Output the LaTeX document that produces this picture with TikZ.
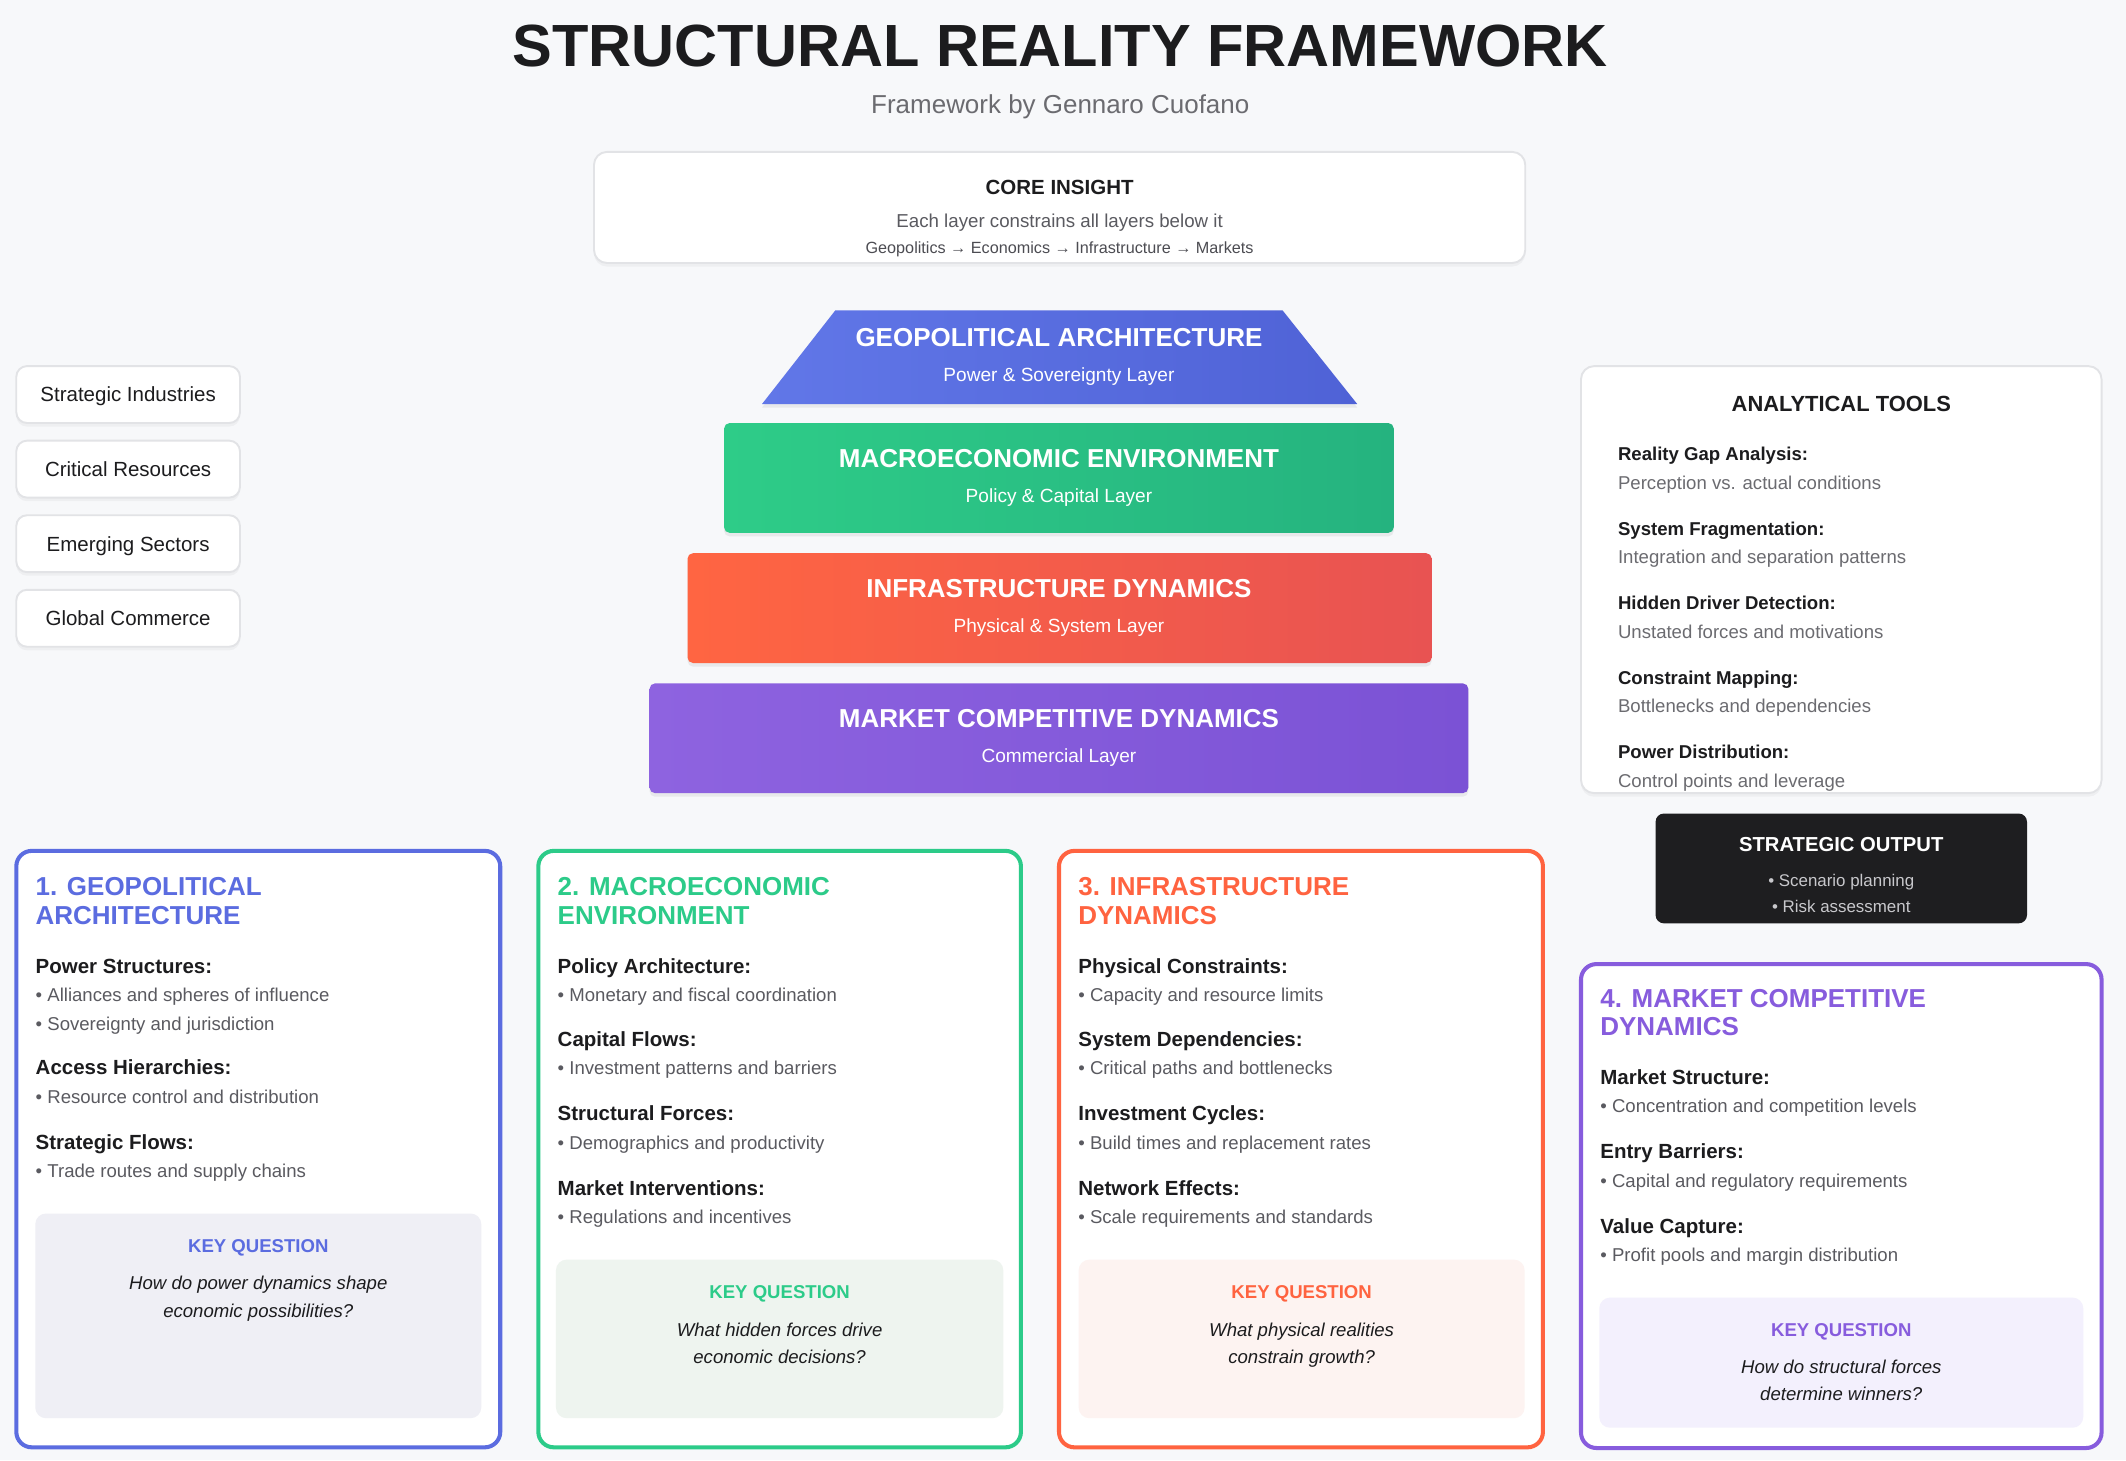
\documentclass[tikz,border=0pt]{standalone}
\usepackage{fontspec}
\setmainfont{Liberation Sans}
\usetikzlibrary{shadows}
\definecolor{bg}{HTML}{F7F8FA}
\definecolor{ink}{HTML}{1C1C1E}
\definecolor{subc}{HTML}{6B6B70}
\definecolor{bodyc}{HTML}{5A5A60}
\definecolor{lineg}{HTML}{E2E3E6}
\definecolor{cblue}{HTML}{5B6CE0}
\definecolor{cgreen}{HTML}{2CCB89}
\definecolor{cred}{HTML}{FF6340}
\definecolor{cpurple}{HTML}{875CDD}
\definecolor{blueA}{HTML}{6177E8}
\definecolor{blueB}{HTML}{4F62D6}
\definecolor{greenA}{HTML}{2ECC88}
\definecolor{greenB}{HTML}{25B37F}
\definecolor{redA}{HTML}{FF6542}
\definecolor{redB}{HTML}{E85352}
\definecolor{purA}{HTML}{8E63E0}
\definecolor{purB}{HTML}{7B52D5}
\definecolor{kqblue}{HTML}{EFEFF5}
\definecolor{kqgreen}{HTML}{EEF4EF}
\definecolor{kqred}{HTML}{FDF3F1}
\definecolor{kqpur}{HTML}{F3F0FD}
\definecolor{darkbox}{HTML}{1E1E20}
\definecolor{outtxt}{HTML}{C8C8CC}
\tikzset{
  shad/.style={drop shadow={opacity=0.07, shadow xshift=0pt, shadow yshift=-1.5pt}},
  panel/.style={draw=lineg, line width=0.8pt, fill=white, rounded corners=5.5pt, inner sep=0pt, shad},
  tagbox/.style={panel, rounded corners=4.5pt, minimum width=3.3cm, minimum height=0.84cm, font=\fontsize{8.6}{10}\selectfont, text=ink, text height=6.2pt, text depth=0pt},
  layer/.style={rounded corners=2.3pt, inner sep=0pt, minimum height=1.62cm, drop shadow={opacity=0.12, shadow xshift=0pt, shadow yshift=-1.5pt}},
  card/.style={draw=#1, line width=1.7pt, fill=white, rounded corners=6.5pt, inner sep=0pt},
  kq/.style={fill=#1, rounded corners=4.5pt, inner sep=0pt},
  tc/.style={inner sep=0pt, anchor=mid, yshift=-0.6pt},
  tl/.style={inner sep=0pt, anchor=mid west, yshift=-0.6pt},
  bigttl/.style={tc, font=\fontsize{25}{30}\selectfont\bfseries, text=ink, yshift=-4.3pt},
  subttl/.style={tc, font=\fontsize{10.9}{13}\selectfont, text=subc},
  laytl/.style={tc, font=\fontsize{10.9}{13}\selectfont\bfseries, text=white},
  laysub/.style={tc, font=\fontsize{8}{10}\selectfont, text=white},
  coretl/.style={tc, font=\fontsize{8.6}{10}\selectfont\bfseries, text=ink},
  coreln/.style={tc, font=\fontsize{7.85}{9}\selectfont, text=bodyc},
  coresm/.style={tc, font=\fontsize{6.8}{8}\selectfont, text=bodyc!85!black},
  anatl/.style={tc, font=\fontsize{9.2}{11}\selectfont\bfseries, text=ink},
  anahd/.style={tl, font=\fontsize{7.8}{9}\selectfont\bfseries, text=ink},
  anatx/.style={tl, font=\fontsize{7.8}{9}\selectfont, text=subc},
  outtl/.style={tc, font=\fontsize{8.5}{10}\selectfont\bfseries, text=white},
  outln/.style={tc, font=\fontsize{7.1}{8.5}\selectfont, text=outtxt},
  cardtl/.style={tl, font=\fontsize{10.9}{13}\selectfont\bfseries, text=#1},
  hd/.style={tl, font=\fontsize{8.6}{10}\selectfont\bfseries, text=ink},
  bl/.style={tl, font=\fontsize{7.8}{9}\selectfont, text=bodyc},
  kqt/.style={tc, font=\fontsize{7.8}{9}\selectfont\bfseries, text=#1},
  kqq/.style={tc, font=\fontsize{7.8}{9}\selectfont\itshape, text=ink},
}
\begin{document}
\begin{tikzpicture}[x=0.02cm, y=-0.02cm]
\useasboundingbox (0,0) rectangle (1568,1077);
\fill[bg] (0,0) rectangle (1568,1077);

% Title
\node[bigttl] (title) at (782,36) {STRUCTURAL REALITY FRAMEWORK};
\node[subttl] (subtitle) at (782,78) {Framework by Gennaro Cuofano};

% Core insight
\node[panel, minimum width=13.74cm, minimum height=1.64cm] (core) at (781.5,153) {};
\node[coretl] (coreT) at (781.5,138) {CORE INSIGHT};
\node[coreln] (coreL1) at (781.5,162) {Each layer constrains all layers below it};
\node[coresm] (coreL2) at (781.5,181) {Geopolitics → Economics → Infrastructure → Markets};

% Pyramid
\shade[left color=blueA, right color=blueB, drop shadow={opacity=0.12, shadow xshift=0pt, shadow yshift=-1.5pt}]
  (616,229) -- (946,229) -- (1001,298) -- (562,298) -- cycle;
\coordinate (geo) at (781,263.5);
\node[laytl] (geoT) at (781,250) {GEOPOLITICAL ARCHITECTURE};
\node[laysub] (geoS) at (781,276) {Power \& Sovereignty Layer};

\node[layer, left color=greenA, right color=greenB, minimum width=9.88cm] (macro) at (781,352.5) {};
\node[laytl] (macroT) at (781,339) {MACROECONOMIC ENVIRONMENT};
\node[laysub] (macroS) at (781,365) {Policy \& Capital Layer};

\node[layer, left color=redA, right color=redB, minimum width=10.98cm] (infra) at (781.5,448.5) {};
\node[laytl] (infraT) at (781,435) {INFRASTRUCTURE DYNAMICS};
\node[laysub] (infraS) at (781,461) {Physical \& System Layer};

\node[layer, left color=purA, right color=purB, minimum width=12.08cm] (market) at (781,544.5) {};
\node[laytl] (marketT) at (781,531) {MARKET COMPETITIVE DYNAMICS};
\node[laysub] (marketS) at (781,557) {Commercial Layer};

% Left tags
\node[tagbox] (tag1) at (94.5,291) {Strategic Industries};
\node[tagbox] (tag2) at (94.5,346) {Critical Resources};
\node[tagbox] (tag3) at (94.5,401) {Emerging Sectors};
\node[tagbox] (tag4) at (94.5,456) {Global Commerce};

% Analytical tools
\node[panel, minimum width=7.68cm, minimum height=6.3cm] (tools) at (1358,427.5) {};
\node[anatl] (toolsT) at (1358,298) {ANALYTICAL TOOLS};
\node[anahd] (a1h) at (1193,334) {Reality Gap Analysis:};
\node[anatx] (a1t) at (1193,355) {Perception vs. actual conditions};
\node[anahd] (a2h) at (1193,389) {System Fragmentation:};
\node[anatx] (a2t) at (1193,410) {Integration and separation patterns};
\node[anahd] (a3h) at (1193,444) {Hidden Driver Detection:};
\node[anatx] (a3t) at (1193,465) {Unstated forces and motivations};
\node[anahd] (a4h) at (1193,499) {Constraint Mapping:};
\node[anatx] (a4t) at (1193,520) {Bottlenecks and dependencies};
\node[anahd] (a5h) at (1193,554) {Power Distribution:};
\node[anatx] (a5t) at (1193,575) {Control points and leverage};

% Strategic output
\node[fill=darkbox, rounded corners=3.5pt, inner sep=0pt, minimum width=5.48cm, minimum height=1.62cm] (output) at (1358,640.5) {};
\node[outtl] (outT) at (1358,622) {STRATEGIC OUTPUT};
\node[outln] (outL1) at (1358,648) {• Scenario planning};
\node[outln] (outL2) at (1358,667) {• Risk assessment};

% Card 1
\node[card=cblue, minimum width=7.14cm, minimum height=8.8cm] (card1) at (190.5,847.5) {};
\node[cardtl=cblue] (c1t1) at (26,655) {1. GEOPOLITICAL};
\node[cardtl=cblue] (c1t2) at (26,676) {ARCHITECTURE};
\node[hd] (c1h1) at (26,712) {Power Structures:};
\node[bl] (c1b1) at (26,733) {• Alliances and spheres of influence};
\node[bl] (c1b2) at (26,754) {• Sovereignty and jurisdiction};
\node[hd] (c1h2) at (26,787) {Access Hierarchies:};
\node[bl] (c1b3) at (26,808) {• Resource control and distribution};
\node[hd] (c1h3) at (26,842) {Strategic Flows:};
\node[bl] (c1b4) at (26,863) {• Trade routes and supply chains};
\node[kq=kqblue, minimum width=6.58cm, minimum height=3.02cm] (kq1) at (190.5,970.5) {};
\node[kqt=cblue] (kq1t) at (190.5,918) {KEY QUESTION};
\node[kqq] (kq1a) at (190.5,945) {How do power dynamics shape};
\node[kqq] (kq1b) at (190.5,966) {economic possibilities?};

% Card 2
\node[card=cgreen, minimum width=7.12cm, minimum height=8.8cm] (card2) at (575,847.5) {};
\node[cardtl=cgreen] (c2t1) at (411,655) {2. MACROECONOMIC};
\node[cardtl=cgreen] (c2t2) at (411,676) {ENVIRONMENT};
\node[hd] (c2h1) at (411,712) {Policy Architecture:};
\node[bl] (c2b1) at (411,733) {• Monetary and fiscal coordination};
\node[hd] (c2h2) at (411,766) {Capital Flows:};
\node[bl] (c2b2) at (411,787) {• Investment patterns and barriers};
\node[hd] (c2h3) at (411,821) {Structural Forces:};
\node[bl] (c2b3) at (411,842) {• Demographics and productivity};
\node[hd] (c2h4) at (411,876) {Market Interventions:};
\node[bl] (c2b4) at (411,897) {• Regulations and incentives};
\node[kq=kqgreen, minimum width=6.6cm, minimum height=2.34cm] (kq2) at (575,987.5) {};
\node[kqt=cgreen] (kq2t) at (575,952) {KEY QUESTION};
\node[kqq] (kq2a) at (575,980) {What hidden forces drive};
\node[kqq] (kq2b) at (575,1000) {economic decisions?};

% Card 3
\node[card=cred, minimum width=7.14cm, minimum height=8.8cm] (card3) at (959.5,847.5) {};
\node[cardtl=cred] (c3t1) at (795,655) {3. INFRASTRUCTURE};
\node[cardtl=cred] (c3t2) at (795,676) {DYNAMICS};
\node[hd] (c3h1) at (795,712) {Physical Constraints:};
\node[bl] (c3b1) at (795,733) {• Capacity and resource limits};
\node[hd] (c3h2) at (795,766) {System Dependencies:};
\node[bl] (c3b2) at (795,787) {• Critical paths and bottlenecks};
\node[hd] (c3h3) at (795,821) {Investment Cycles:};
\node[bl] (c3b3) at (795,842) {• Build times and replacement rates};
\node[hd] (c3h4) at (795,876) {Network Effects:};
\node[bl] (c3b4) at (795,897) {• Scale requirements and standards};
\node[kq=kqred, minimum width=6.58cm, minimum height=2.34cm] (kq3) at (960,987.5) {};
\node[kqt=cred] (kq3t) at (960,952) {KEY QUESTION};
\node[kqq] (kq3a) at (960,980) {What physical realities};
\node[kqq] (kq3b) at (960,1000) {constrain growth?};

% Card 4
\node[card=cpurple, minimum width=7.68cm, minimum height=7.14cm] (card4) at (1358,889.5) {};
\node[cardtl=cpurple] (c4t1) at (1180,737) {4. MARKET COMPETITIVE};
\node[cardtl=cpurple] (c4t2) at (1180,758) {DYNAMICS};
\node[hd] (c4h1) at (1180,794) {Market Structure:};
\node[bl] (c4b1) at (1180,815) {• Concentration and competition levels};
\node[hd] (c4h2) at (1180,849) {Entry Barriers:};
\node[bl] (c4b2) at (1180,870) {• Capital and regulatory requirements};
\node[hd] (c4h3) at (1180,904) {Value Capture:};
\node[bl] (c4b3) at (1180,925) {• Profit pools and margin distribution};
\node[kq=kqpur, minimum width=7.14cm, minimum height=1.92cm] (kq4) at (1358,1005) {};
\node[kqt=cpurple] (kq4t) at (1358,980) {KEY QUESTION};
\node[kqq] (kq4a) at (1358,1007) {How do structural forces};
\node[kqq] (kq4b) at (1358,1027) {determine winners?};
\end{tikzpicture}
\end{document}
